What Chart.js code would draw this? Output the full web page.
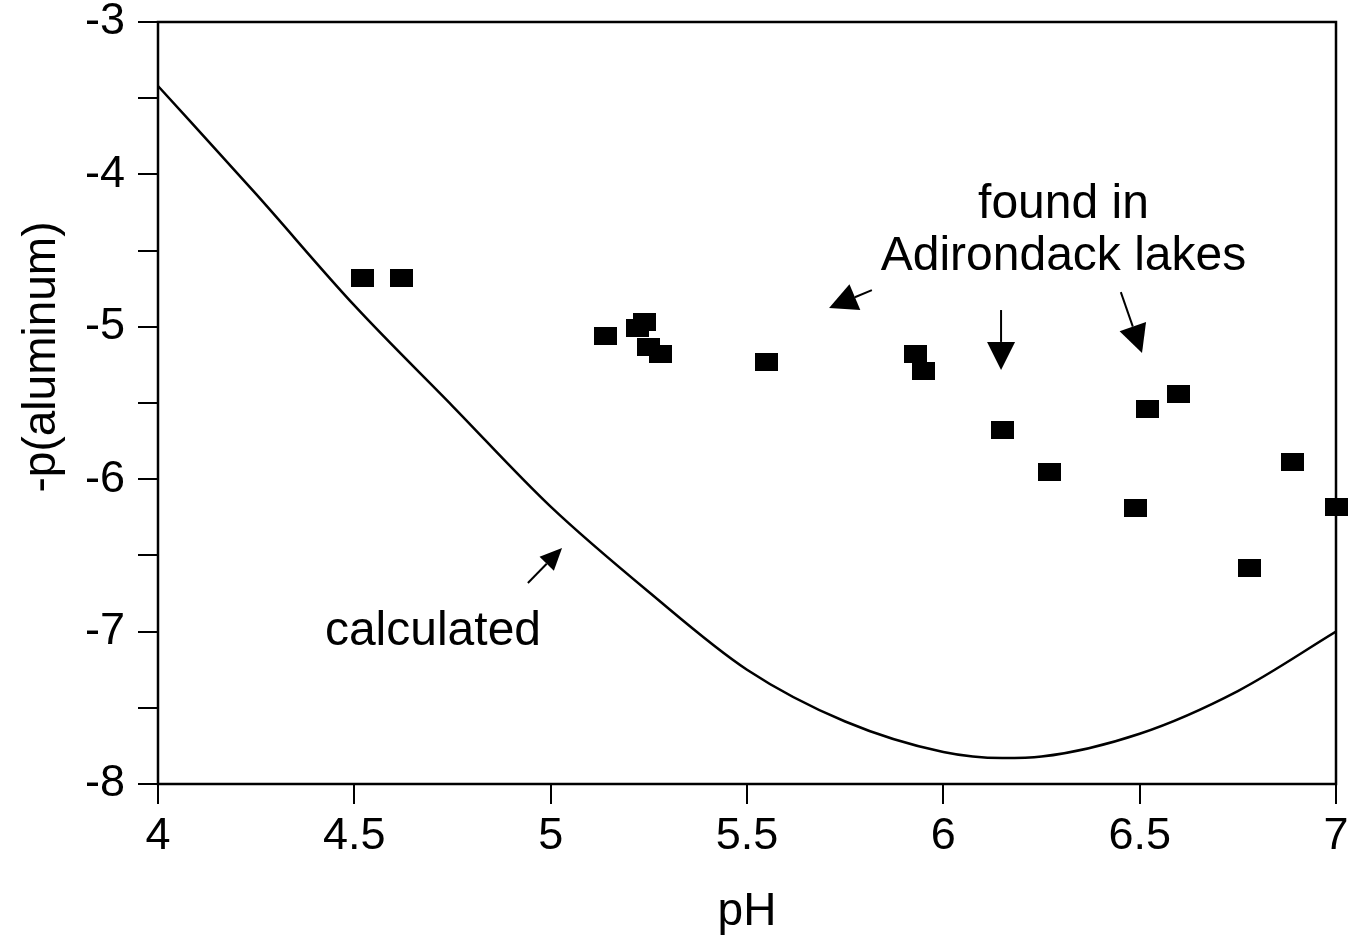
<!DOCTYPE html>
<html>
<head>
<meta charset="utf-8">
<script src="https://cdn.jsdelivr.net/npm/chart.js@4.4.1/dist/chart.umd.min.js"></script>
<style>
    html, body { margin: 0; padding: 0; background: #fff; }
    #wrap { width: 1353px; height: 937px; }
</style>
</head>
<body>
<div id="wrap"><canvas id="alChart" width="1353" height="937"></canvas></div>
<script>
// measured lake samples
const lakePH = [4.52, 4.62, 5.14, 5.22, 5.24, 5.25, 5.28, 5.55, 5.93, 5.95, 6.15, 6.27, 6.49, 6.52, 6.60, 6.78, 6.89, 7.00];
const lakeAl = [-4.68, -4.68, -5.06, -5.01, -4.97, -5.13, -5.18, -5.23, -5.18, -5.29, -5.68, -5.95, -6.19, -5.54, -5.44, -6.58, -5.89, -6.18];

// calculated curve
const calcPH = [4.0, 4.25, 4.5, 4.75, 5.0, 5.25, 5.5, 5.75, 6.0, 6.15, 6.25, 6.5, 6.75, 7.0];
const calcAl = [-3.42, -4.13, -4.86, -5.52, -6.18, -6.74, -7.25, -7.59, -7.79, -7.83, -7.82, -7.67, -7.39, -7.0];

const xTicks = [4, 4.5, 5, 5.5, 6, 6.5, 7];
const yTicks = [-8, -7, -6, -5, -4, -3];

const FONT = "'Liberation Sans', Arial, sans-serif";

// filled rectangle marker like the scanned original
const marker = document.createElement('canvas');
marker.width = 23;
marker.height = 18;
const mctx = marker.getContext('2d');
mctx.fillStyle = '#000';
mctx.fillRect(0, 0, 23, 18);

function arrow(ctx, x0, y0, x1, y1, len, half) {
    const ang = Math.atan2(y1 - y0, x1 - x0);
    const bx = x1 - len * Math.cos(ang), by = y1 - len * Math.sin(ang);
    ctx.beginPath();
    ctx.moveTo(x0, y0);
    ctx.lineTo(bx, by);
    ctx.stroke();
    ctx.beginPath();
    ctx.moveTo(x1, y1);
    ctx.lineTo(bx + half * Math.sin(ang), by - half * Math.cos(ang));
    ctx.lineTo(bx - half * Math.sin(ang), by + half * Math.cos(ang));
    ctx.closePath();
    ctx.fill();
}

const decorations = {
    id: 'decorations',
    afterDatasetsDraw(chart) {
        const { ctx, chartArea: a, scales: { x, y } } = chart;
        ctx.save();
        ctx.strokeStyle = '#000';
        ctx.fillStyle = '#000';
        ctx.lineWidth = 2.5;
        ctx.strokeRect(a.left, a.top, a.right - a.left, a.bottom - a.top);

        // annotations, placed in data units
        ctx.font = '48px ' + FONT;
        ctx.textAlign = 'center';
        ctx.textBaseline = 'alphabetic';
        ctx.fillText('found in', x.getPixelForValue(6.306), y.getPixelForValue(-4.286));
        ctx.fillText('Adirondack lakes', x.getPixelForValue(6.306), y.getPixelForValue(-4.627));
        ctx.textAlign = 'left';
        ctx.fillText('calculated', x.getPixelForValue(4.425), y.getPixelForValue(-7.088));

        ctx.lineWidth = 2;
        const P = (px, py) => [x.getPixelForValue(px), y.getPixelForValue(py)];
        arrow(ctx, ...P(4.942, -6.681), ...P(5.029, -6.451), 22, 10);
        arrow(ctx, ...P(5.818, -4.759), ...P(5.709, -4.877), 28, 14);
        arrow(ctx, ...P(6.147, -4.890), ...P(6.147, -5.283), 28, 14);
        arrow(ctx, ...P(6.452, -4.772), ...P(6.506, -5.172), 28, 14);

        // axis titles
        ctx.font = '46px ' + FONT;
        ctx.textAlign = 'center';
        ctx.textBaseline = 'middle';
        ctx.fillText('pH', (a.left + a.right) / 2, 912);
        ctx.translate(42, 357);
        ctx.rotate(-Math.PI / 2);
        ctx.fillText('-p(aluminum)', 0, 0);
        ctx.restore();
    }
};

new Chart(document.getElementById('alChart'), {
    type: 'scatter',
    data: {
        datasets: [
            {
                label: 'found in Adirondack lakes',
                data: lakePH.map((v, i) => ({ x: v, y: lakeAl[i] })),
                pointStyle: marker,
                pointRadius: 10,
                backgroundColor: '#000',
                borderColor: '#000',
                clip: false
            },
            {
                label: 'calculated',
                type: 'line',
                data: calcPH.map((v, i) => ({ x: v, y: calcAl[i] })),
                borderColor: '#000',
                borderWidth: 2.5,
                pointRadius: 0,
                fill: false,
                cubicInterpolationMode: 'monotone'
            }
        ]
    },
    options: {
        responsive: false,
        animation: false,
        layout: { padding: { left: 0, right: 17, top: 22, bottom: 0 } },
        plugins: {
            legend: { display: false },
            tooltip: { enabled: false }
        },
        scales: {
            x: {
                type: 'linear',
                min: 4,
                max: 7,
                afterBuildTicks: s => { s.ticks = xTicks.map(v => ({ value: v })); },
                afterFit: s => { s.height = 153; s.paddingLeft = 0; s.paddingRight = 0; },
                border: { display: false },
                grid: { drawOnChartArea: false, drawTicks: true, tickLength: 20, color: '#000', lineWidth: 2 },
                ticks: {
                    color: '#000',
                    padding: 10,
                    maxRotation: 0,
                    font: { family: FONT, size: 45, lineHeight: 1 },
                    callback: v => String(v)
                }
            },
            y: {
                type: 'linear',
                min: -8,
                max: -3,
                afterBuildTicks: s => {
                    const t = [];
                    for (let v = -8; v <= -3; v += 0.5) t.push({ value: v });
                    s.ticks = t;
                },
                afterFit: s => { s.width = 158; s.paddingTop = 0; s.paddingBottom = 0; },
                border: { display: false },
                grid: { drawOnChartArea: false, drawTicks: true, tickLength: 20, color: '#000', lineWidth: 2 },
                ticks: {
                    color: '#000',
                    padding: 13,
                    font: { family: FONT, size: 45, lineHeight: 0.9 },
                    callback: v => (yTicks.includes(v) ? String(v) : '')
                }
            }
        }
    },
    plugins: [decorations]
});
</script>
</body>
</html>
